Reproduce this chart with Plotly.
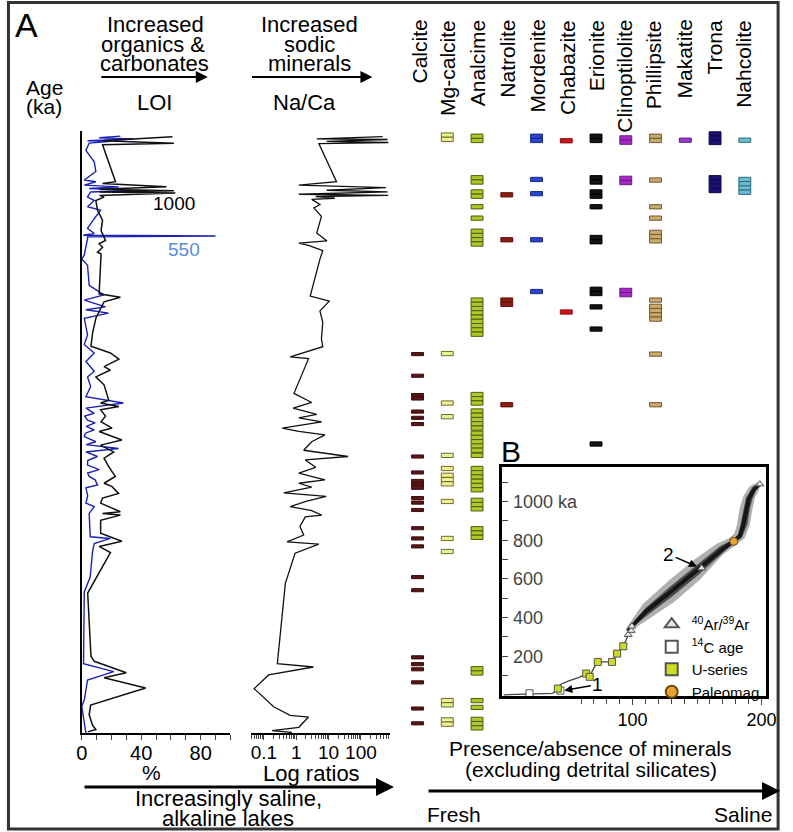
import plotly.graph_objects as go

W, H = 793, 832
FONT = "Liberation Sans, Arial, Helvetica, sans-serif"

def fx(p):
    return p / W

def fy(p):
    return 1 - p / H

# ---------------- DATA ----------------
# LOI at 1000 C (black), age in ka, value in %
loi1000_age = [9, 16, 20.5, 23, 88, 91, 97, 101, 104, 106, 108, 112, 115, 121, 138, 156, 174, 191, 197, 203,
               212, 215, 285, 291, 299, 328, 354, 377, 389, 400, 413, 419, 431, 445, 472, 477, 483, 489, 500,
               510, 521, 527, 542, 551, 563, 574, 589, 606, 618, 624, 636, 644, 653, 668, 671, 674, 683, 706,
               720, 729, 740, 811, 922, 931, 951, 960, 978, 1008, 1025, 1034, 1043, 1051, 1055]
loi1000_val = [61, 14, 62, 14, 22.7, 14, 57, 12, 62, 12, 63, 12, 15, 9.5, 10.6, 14, 13, 16, 11.7, 14,
               10.6, 13, 11.7, 26, 15, 9.5, 7.3, 6.2, 19.3, 25, 15, 19.3, 9.5, 15, 18.2, 12.7, 25, 12.7, 16,
               13, 20.4, 11.7, 27, 12.7, 21.5, 15, 18.2, 22.6, 15, 20.4, 24.8, 14, 12.7, 26, 14, 26, 12.7, 12.7,
               27, 11.7, 19.3, 4, 6.2, 8.4, 30, 15, 43, 6, 5, 6, 7.2, 9.5, 4]

# LOI at 550 C (blue)
loi550_age = [7.8, 10.8, 13, 16, 17, 20, 33, 53, 70, 85, 88, 94, 97, 100, 103, 106, 115, 121, 132, 138, 153,
              170, 179, 182, 183.5, 185, 188, 217, 224, 235, 270, 287, 296, 308, 313, 319, 328, 357, 374, 389,
              404, 421, 431, 448, 466, 477, 486, 495, 500, 507, 512, 518, 524, 530, 536, 545, 550, 557, 563,
              571, 578, 586, 594, 600, 606, 612, 621, 626, 640, 653, 659, 671, 712, 715, 724, 739, 783, 809,
              935, 949, 964, 999, 1010, 1057]
loi550_val = [26, 11.7, 34.7, 3.9, 19.3, 5, 2.8, 8.4, 9.5, 1.7, 9.5, 1.7, 25, 5, 34.7, 6, 3.9, 8.4, 3.9, 12.7, 8.4,
              3.9, 8.4, 1, 90, 3.9, 3.9, 1.7, 0, 3.9, 5, 15, 1.7, 16, 2.8, 18, 1.7, 3.9, 1.7, 8.4,
              2.8, 8.4, 3.9, 6, 2.8, 28, 2.8, 8.4, 2, 3.9, 9, 3, 8.4, 2.5, 1.7, 9.5, 3, 24.8, 2.8,
              10.6, 4, 3.9, 11.7, 4, 5, 9, 10.6, 2.8, 4, 2.8, 8.4, 5, 5.7, 19.3, 8.4, 7.2, 5.7, 1.7,
              1.2, 21.5, 3.9, 1.7, 0, 2.8]

# Na/Ca ratio (log scale)
naca_age = [8.8, 12.7, 13.8, 17, 19, 21, 88, 91, 94, 98.5, 103, 106, 110, 112, 114, 117, 119, 128, 134, 149,
            178, 192, 196, 200, 209, 224, 289, 298, 315, 335, 364, 378, 396, 399, 460, 476, 486, 497, 503,
            510, 521, 527, 533, 545, 560, 571, 577, 590, 600, 612, 618, 625, 635, 641, 650, 659, 666, 674,
            677, 694, 709, 721, 725, 741, 794, 935, 941, 955, 979, 1011, 1026, 1029, 1047, 1053, 1056]
naca_val = [468, 4.3, 665, 8.7, 700, 5, 17.5, 5.4, 1.2, 590, 8.7, 665, 1.2, 700, 4, 15.6, 3, 5.4, 3.5, 6,
            4.3, 8.9, 1.2, 2.4, 6.6, 5.4, 2.7, 10.5, 5.4, 6.6, 6, 6.6, 0.65, 2.4, 0.85, 3, 0.8, 4.3, 1.2,
            6.1, 0.37, 1.2, 7.7, 3, 1.7, 40, 1.9, 4, 1.2, 7.7, 1.2, 3, 0.41, 8.4, 2, 0.65, 3, 6.1,
            1.9, 1.3, 1.7, 0.52, 5, 0.92, 0.46, 0.26, 3.4, 0.14, 0.05, 0.2, 0.65, 2.4, 1.2, 0.18, 0.74]

# Mineral presence (ages in ka of each sampled occurrence)
minerals = ["Calcite", "Mg-calcite", "Analcime", "Natrolite", "Mordenite", "Chabazite", "Erionite",
            "Clinoptilolite", "Phillipsite", "Makatite", "Trona", "Nahcolite"]
calcite_ages = [391, 429, 463, 469, 492, 503, 514, 571, 599, 614, 620, 626, 644, 652, 665, 697, 715, 729,
                783, 806, 924, 936, 945, 968, 1014, 1040]
mgcalcite_ages = [6, 13.5, 390, 477, 501, 569, 592, 604, 611.5, 619, 650, 715, 738, 1000, 1007.5, 1034, 1041.5]
analcime_ages = [8, 15.5, 81, 88.5, 106, 113.5, 132, 152, 175, 182.5, 190, 197.5, 296, 303.5, 311, 318.5, 326,
                 333.5, 341, 348.5, 356, 462, 469.5, 477, 491, 498.5, 506, 513.5, 521, 530, 537.5, 545, 552.5,
                 560, 569, 592, 599.5, 607, 614.5, 622, 629.5, 648, 655.5, 663, 698, 705.5, 713, 944, 951.5,
                 1000, 1012, 1033, 1040.5, 1048]
natrolite_ages = [111, 190, 296, 303.5, 480]
mordenite_ages = [8, 15.5, 84, 109, 190, 281]
chabazite_ages = [16, 317]
erionite_ages = [8, 15.5, 81, 88.5, 106, 113.5, 132, 186, 193.5, 277, 284.5, 308, 347, 549]
clinoptilolite_ages = [11, 18.5, 82, 89.5, 279, 286.5]
phillipsite_ages = [8, 15.5, 85, 132, 152, 177, 184.5, 192, 296, 307, 314.5, 322, 329.5, 391, 480]
makatite_ages = [15]
trona_ages = [4, 11.5, 19, 81, 88.5, 96, 103.5]
nahcolite_ages = [15, 84, 91.5, 99, 106.5]

mineral_ages = [calcite_ages, mgcalcite_ages, analcime_ages, natrolite_ages, mordenite_ages, chabazite_ages,
                erionite_ages, clinoptilolite_ages, phillipsite_ages, makatite_ages, trona_ages, nahcolite_ages]
mineral_fill = ["#5c1616", "#eef294", "#b2c826", "#8e1c12", "#2b46d6", "#c8141c", "#141414", "#a628c8",
                "#c8aa6c", "#9a3ad0", "#1c1078", "#6cbcd4"]
mineral_edge = ["#3a0c0c", "#6b6b2a", "#4f5a12", "#5a100a", "#1b2a7a", "#8a0e12", "#000000", "#6a1a80",
                "#6e5a30", "#5e2080", "#0c0840", "#2e6a7a"]
mineral_h = [5.5, 7.5, 7.5, 7.5, 7.5, 7.5, 7.5, 7.5, 7.5, 7.5, 7.5, 7.5]

# Inset B: age model (x = depth, y = age in ka)
ar_x = [96.6, 99, 99.5, 153.6, 198.7]
ar_y = [312, 333, 355, 656, 1090]
c14_x = [20, 44]
c14_y = [9, 23]
useries_x = [42, 64, 66.7, 73, 84, 88, 92.8]
useries_y = [33.5, 111, 94, 171, 171, 214, 252]
pmag_x = [178.5]
pmag_y = [794]
model_x = [0, 20, 38, 42, 44, 50, 58, 64, 66.7, 70, 73, 84, 88, 92.8, 96.6, 99]
model_y = [1, 5, 9, 30, 55, 72, 90, 108, 96, 140, 171, 172, 214, 252, 312, 345]
band_up_x = [95, 108, 128, 148, 165, 175, 179, 181, 183, 186, 191, 197]
band_up_y = [345, 470, 590, 700, 780, 812, 835, 880, 960, 1030, 1080, 1100]
band_lo_x = [98, 112, 132, 152, 170, 180, 187, 191, 193, 195, 198, 199]
band_lo_y = [330, 390, 480, 595, 725, 775, 810, 880, 960, 1020, 1060, 1085]
core_up_x = [96, 110, 130, 150, 168, 177, 182, 184, 186, 188, 193, 198]
core_up_y = [340, 450, 565, 675, 770, 800, 830, 890, 960, 1020, 1075, 1095]
core_lo_x = [97, 111, 131, 151, 171, 179, 185, 189, 191, 193, 196, 199]
core_lo_y = [335, 410, 510, 620, 740, 788, 815, 880, 960, 1015, 1060, 1088]
center_x = [96, 110, 130, 150, 170, 178.5, 183, 186, 188, 190, 194, 198.7]
center_y = [330, 430, 536, 648, 755, 794, 820, 880, 960, 1010, 1060, 1090]

age_ticks = list(range(0, 1051, 50))
age_minor = list(range(25, 1050, 50))

# ---------------- FIGURE ----------------
fig = go.Figure()

fig.add_trace(go.Scatter(x=loi550_val, y=loi550_age, mode="lines", line=dict(color="#1c22b8", width=1.4),
                         xaxis="x", yaxis="y", showlegend=False, hoverinfo="skip"))
fig.add_trace(go.Scatter(x=loi1000_val, y=loi1000_age, mode="lines", line=dict(color="#111111", width=1.5),
                         xaxis="x", yaxis="y", showlegend=False, hoverinfo="skip"))
fig.add_trace(go.Scatter(x=naca_val, y=naca_age, mode="lines", line=dict(color="#111111", width=1.3),
                         xaxis="x2", yaxis="y", showlegend=False, hoverinfo="skip"))

for name, ages, fc, ec, h in zip(minerals, mineral_ages, mineral_fill, mineral_edge, mineral_h):
    fig.add_trace(go.Bar(x=[name] * len(ages), y=[h] * len(ages), base=[a - h / 2 for a in ages],
                         width=0.4, marker=dict(color=fc, line=dict(color=ec, width=1)),
                         xaxis="x3", yaxis="y", showlegend=False, hoverinfo="skip"))

# inset B
fig.add_trace(go.Scatter(x=band_up_x + band_lo_x[::-1], y=band_up_y + band_lo_y[::-1], fill="toself",
                         fillcolor="rgba(30,30,30,0.35)", line=dict(width=0), mode="lines",
                         xaxis="x4", yaxis="y4", showlegend=False, hoverinfo="skip"))
fig.add_trace(go.Scatter(x=core_up_x + core_lo_x[::-1], y=core_up_y + core_lo_y[::-1], fill="toself",
                         fillcolor="rgba(10,10,10,0.6)", line=dict(width=0), mode="lines",
                         xaxis="x4", yaxis="y4", showlegend=False, hoverinfo="skip"))
fig.add_trace(go.Scatter(x=center_x, y=center_y, mode="lines", line=dict(color="rgba(0,0,0,0.7)", width=4),
                         xaxis="x4", yaxis="y4", showlegend=False, hoverinfo="skip"))
fig.add_trace(go.Scatter(x=model_x, y=model_y, mode="lines", line=dict(color="#444", width=1.3),
                         xaxis="x4", yaxis="y4", showlegend=False, hoverinfo="skip"))
fig.add_trace(go.Scatter(x=ar_x, y=ar_y, mode="markers", name="<sup>40</sup>Ar/<sup>39</sup>Ar",
                         marker=dict(symbol="triangle-up", size=7, color="#e6e6e6", line=dict(color="#555", width=1)),
                         xaxis="x4", yaxis="y4"))
fig.add_trace(go.Scatter(x=c14_x, y=c14_y, mode="markers", name="<sup>14</sup>C age",
                         marker=dict(symbol="square", size=7, color="white", line=dict(color="#555", width=1)),
                         xaxis="x4", yaxis="y4"))
fig.add_trace(go.Scatter(x=useries_x, y=useries_y, mode="markers", name="U-series",
                         marker=dict(symbol="square", size=7, color="#cfdc1e", line=dict(color="#555", width=1)),
                         xaxis="x4", yaxis="y4"))
fig.add_trace(go.Scatter(x=pmag_x, y=pmag_y, mode="markers", name="Paleomag",
                         marker=dict(symbol="circle", size=8, color="#e8a232", line=dict(color="#6a4a10", width=1)),
                         xaxis="x4", yaxis="y4"))

# ---------------- AXES ----------------
y_top, y_bot = 131.1, 733.0
yrange = [1057, -1]

lay = dict(
    width=W, height=H, margin=dict(l=0, r=0, t=0, b=0),
    paper_bgcolor="white", plot_bgcolor="white",
    font=dict(family=FONT, color="black", size=19),
    barmode="overlay",
    xaxis=dict(domain=[fx(77.3), fx(229)], range=[0, 100], anchor="y", showgrid=False, zeroline=False,
               showline=True, linecolor="black", linewidth=1.5, ticks="outside", ticklen=5, tickwidth=1.2,
               tickvals=[0, 40, 80], tickfont=dict(size=20),
               minor=dict(tickvals=[10, 20, 30, 50, 60, 70, 90, 100], ticks="outside", ticklen=5, tickwidth=1.2)),
    xaxis2=dict(domain=[fx(250), fx(392)], type="log", range=[-1.4, 2.9], anchor="y", showgrid=False,
                zeroline=False, showline=True, linecolor="black", linewidth=1.5, ticks="outside", ticklen=5,
                tickwidth=1.2, tickvals=[0.1, 1, 10, 100], ticktext=["0.1", "1", "10", "100"],
                tickfont=dict(size=19),
                minor=dict(tickvals=[m * 10 ** e for e in range(-2, 3) for m in range(2, 10)],
                           ticks="outside", ticklen=4, tickwidth=1)),
    xaxis3=dict(domain=[fx(400), fx(778)], type="category", categoryorder="array", categoryarray=minerals,
                range=[-0.659, 11.79], anchor="y", visible=False),
    yaxis=dict(domain=[fy(y_bot), fy(y_top)], range=yrange, anchor="x", showgrid=False, zeroline=False,
               showline=True, linecolor="black", linewidth=1.5, ticks="", showticklabels=False),
    yaxis5=dict(domain=[fy(y_bot), fy(y_top)], range=yrange, overlaying="y", anchor="free", position=fx(60),
                side="left", showgrid=False, zeroline=False, showline=True, linecolor="black", linewidth=1.5,
                ticks="outside", ticklen=10, tickwidth=1.5, tickvals=age_ticks, tickfont=dict(size=19),
                minor=dict(tickvals=age_minor, ticks="outside", ticklen=6, tickwidth=1.5)),
    yaxis3=dict(domain=[fy(y_bot), fy(y_top)], range=yrange, overlaying="y", anchor="x2", showgrid=False,
                zeroline=False, showline=True, linecolor="#777", linewidth=1.5, ticks="", showticklabels=False),
    xaxis4=dict(domain=[fx(506), fx(776)], range=[-1.5, 203.8], anchor="y4", showgrid=False, zeroline=False,
                showline=True, mirror=True, linecolor="black", linewidth=2.5, ticks="outside", ticklen=6,
                tickwidth=1.2, tickvals=[0, 100, 200], tickfont=dict(size=18),
                minor=dict(dtick=10, tick0=0, ticks="outside", ticklen=5, tickwidth=1.2)),
    yaxis4=dict(domain=[fy(696), fy(466.7)], range=[-5, 1180], anchor="x4", showgrid=False, zeroline=False,
                showline=True, mirror=True, linecolor="black", linewidth=2.5, ticks="inside", ticklen=6,
                tickwidth=1.2, ticklabelposition="inside", tickvals=[200, 400, 600, 800, 1000],
                ticktext=["200", "400", "600", "800", "1000 ka"], tickfont=dict(size=18),
                minor=dict(tickvals=[100, 300, 500, 700, 900, 1100], ticks="inside", ticklen=6, tickwidth=1.2)),
    legend=dict(x=fx(659), y=fy(608), xanchor="left", yanchor="top", bgcolor="rgba(0,0,0,0)",
                font=dict(size=15, family=FONT), itemsizing="constant", tracegroupgap=0, borderwidth=0),
)
fig.update_layout(**lay)

# nudge tick labels closer to match the reference (ignored if unsupported)
try:
    fig.update_layout(xaxis_ticklabelstandoff=-4, xaxis2_ticklabelstandoff=-4, yaxis4_ticklabelstandoff=6)
except Exception:
    pass

# ---------------- TEXT / ARROWS ----------------
ann = []

def txt(x, y, s, size=22, color="black", angle=0, xa="center", ya="middle"):
    ann.append(dict(x=fx(x), y=fy(y), xref="paper", yref="paper", text=s, showarrow=False, textangle=angle,
                    xanchor=xa, yanchor=ya, font=dict(size=size, color=color, family=FONT)))

def arrow(x0, x1, y, width=2, size=1.0):
    ann.append(dict(x=fx(x1), y=fy(y), xref="paper", yref="paper", ax=x0 - x1, ay=0, text="",
                    showarrow=True, arrowhead=2, arrowsize=size, arrowwidth=width, arrowcolor="black"))

txt(21, 25, "A", size=34)
txt(39, 87, "Age", size=21)
txt(39, 106, "(ka)", size=21)
txt(153, 25, "Increased")
txt(150, 45, "organics &")
txt(152, 64, "carbonates")
arrow(98, 206, 77, width=2, size=1.2)
txt(152, 102, "LOI", size=22)
txt(310, 25, "Increased")
txt(310, 45, "sodic")
txt(310, 64, "minerals")
arrow(252, 374, 77, width=2, size=1.2)
txt(305, 102, "Na/Ca", size=22)

header_x = [421, 450, 481, 511, 542, 573, 603, 631, 661, 692, 723, 752]
for hx, m in zip(header_x, minerals):
    txt(hx, 18, m, size=21, angle=-90, ya="top")

txt(148, 772, "%", size=21)
txt(312, 773, "Log ratios", size=22)
arrow(85, 396, 787, width=3, size=1.2)
txt(227, 798, "Increasingly saline,", size=22)
txt(227, 818, "alkaline lakes", size=22)

txt(597, 748, "Presence/absence of minerals", size=21)
txt(597, 769, "(excluding detrital silicates)", size=21)
arrow(437, 790, 791, width=3, size=1.2)
txt(457, 814, "Fresh", size=21)
txt(752, 814, "Saline", size=21)
txt(515, 452, "B", size=30)

# data-anchored labels
ann.append(dict(x=62, y=126, xref="x", yref="y", text="1000", showarrow=False,
                font=dict(size=19, color="black", family=FONT)))
ann.append(dict(x=69, y=208, xref="x", yref="y", text="550", showarrow=False,
                font=dict(size=19, color="#5b8bd8", family=FONT)))
ann.append(dict(x=47, y=24, xref="x4", yref="y4", ax=73, ay=54, axref="x4", ayref="y4", text="1",
                showarrow=True, arrowhead=2, arrowsize=1, arrowwidth=1.6, arrowcolor="black",
                font=dict(size=19, family=FONT)))
ann.append(dict(x=150, y=664, xref="x4", yref="y4", ax=128, ay=727, axref="x4", ayref="y4", text="2",
                showarrow=True, arrowhead=2, arrowsize=1, arrowwidth=1.6, arrowcolor="black",
                font=dict(size=19, family=FONT)))
fig.update_layout(annotations=ann)

fig.add_shape(type="rect", xref="paper", yref="paper", x0=fx(2.5), x1=fx(788), y0=fy(829), y1=fy(2.5),
              line=dict(color="#333", width=3))

fig.write_html("out.html", config={"displayModeBar": False},
               post_script="document.body.style.margin='0';document.body.style.overflow='hidden';")
